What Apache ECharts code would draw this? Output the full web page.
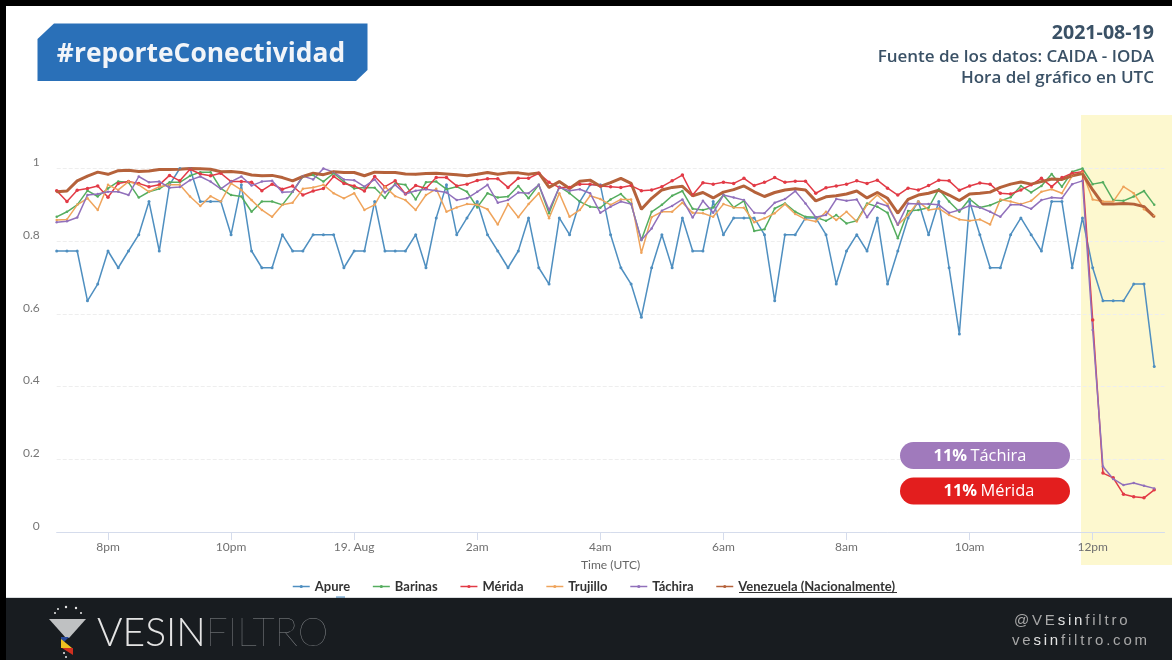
<!DOCTYPE html>
<html>
<head>
<meta charset="utf-8">
<title>reporteConectividad</title>
<script src="https://cdn.jsdelivr.net/npm/echarts@6/dist/echarts.min.js"></script>
<style>
html, body { margin: 0; padding: 0; background: #fff; }
#main { width: 1172px; height: 660px; }
</style>
</head>
<body>
<div id="main"></div>
<script>
// horas del eje, cada 10 min (la ultima queda vacia, el eje sigue un poco mas)
var times = [
    '19:10','19:20','19:30','19:40','19:50','20:00','20:10','20:20','20:30','20:40','20:50','21:00','21:10','21:20','21:30','21:40','21:50','22:00','22:10','22:20','22:30','22:40','22:50','23:00','23:10','23:20','23:30','23:40','23:50',
    '00:00','00:10','00:20','00:30','00:40','00:50','01:00','01:10','01:20','01:30','01:40','01:50','02:00','02:10','02:20','02:30','02:40','02:50','03:00','03:10','03:20','03:30','03:40','03:50','04:00','04:10','04:20','04:30','04:40','04:50',
    '05:00','05:10','05:20','05:30','05:40','05:50','06:00','06:10','06:20','06:30','06:40','06:50','07:00','07:10','07:20','07:30','07:40','07:50','08:00','08:10','08:20','08:30','08:40','08:50','09:00','09:10','09:20','09:30','09:40','09:50',
    '10:00','10:10','10:20','10:30','10:40','10:50','11:00','11:10','11:20','11:30','11:40','11:50','12:00','12:10','12:20','12:30','12:40','12:50','13:00','13:10'
];
var tickLabels = {'20:00': '8pm', '22:00': '10pm', '00:00': '19. Aug', '02:00': '2am', '04:00': '4am', '06:00': '6am', '08:00': '8am', '10:00': '10am', '12:00': '12pm'};

var apure = [
    .773,.773,.773,.636,.682,.773,.727,.773,.818,.909,
    .773,.955,1,1,.909,.909,.909,.818,.955,.773,
    .727,.727,.818,.773,.773,.818,.818,.818,.727,.773,
    .773,.909,.773,.773,.773,.818,.727,.864,.955,.818,
    .864,.909,.818,.773,.727,.773,.864,.727,.682,.864,
    .818,.909,.955,.955,.818,.727,.682,.591,.727,.818,
    .727,.864,.773,.773,.909,.818,.864,.864,.864,.818,
    .636,.818,.818,.864,.864,.818,.682,.773,.818,.773,
    .864,.682,.773,.864,.909,.818,.909,.727,.545,.909,
    .818,.727,.727,.818,.864,.818,.773,.909,.909,.727,
    .864,.727,.636,.636,.636,.682,.682,.455
];
var barinas = [
    .867,.881,.900,.939,.923,.945,.964,.962,.920,.936,
    .944,.962,.962,.980,.990,.990,.945,.927,.923,.881,
    .909,.909,.900,.936,.978,.982,.964,.987,.964,.945,
    .948,.947,.919,.959,.955,.915,.962,.964,.943,.950,
    .936,.893,.932,.920,.923,.952,.918,.955,.877,.950,
    .932,.909,.895,.892,.915,.930,.902,.803,.881,.900,
    .925,.938,.889,.886,.893,.927,.893,.911,.828,.833,
    .890,.904,.881,.867,.866,.856,.872,.849,.856,.904,
    .895,.878,.808,.883,.886,.892,.943,.909,.881,.916,
    .893,.899,.911,.921,.952,.934,.952,.985,.950,.991,
    1,.957,.962,.913,.911,.923,.938,.900
];
var merida = [
    .939,.909,.940,.945,.952,.921,.959,.964,.959,.950,
    .955,.981,.966,.998,.985,.980,.987,.964,.964,.962,
    .939,.957,.943,.952,.927,.938,.945,.978,.959,.952,
    .938,.978,.950,.966,.930,.953,.945,.975,.975,.952,
    .957,.967,.972,.972,.948,.973,.973,.987,.962,.948,
    .948,.957,.957,.952,.950,.948,.953,.939,.941,.950,
    .966,.982,.927,.961,.957,.962,.959,.973,.953,.962,
    .975,.962,.965,.965,.932,.947,.952,.957,.966,.959,
    .968,.946,.927,.946,.941,.953,.968,.966,.940,.952,
    .960,.957,.932,.930,.941,.955,.973,.950,.975,.987,
    .991,.583,.162,.149,.104,.097,.094,.116
];
var trujillo = [
    .858,.860,.900,.918,.886,.955,.941,.964,.955,.936,
    .950,.955,.955,.923,.897,.924,.909,.959,.941,.913,
    .886,.867,.900,.906,.944,.948,.955,.932,.918,.932,
    .886,.900,.950,.924,.913,.886,.927,.944,.881,.893,
    .902,.900,.888,.846,.902,.866,.902,.932,.863,.932,
    .867,.886,.925,.916,.900,.915,.915,.768,.866,.881,
    .881,.906,.878,.877,.867,.902,.893,.892,.852,.863,
    .877,.902,.875,.860,.854,.881,.858,.881,.854,.900,
    .927,.902,.845,.872,.909,.886,.890,.872,.860,.856,
    .860,.846,.915,.909,.902,.911,.936,.943,.932,.980,
    .989,.915,.909,.909,.950,.932,.888,.869
];
var tachira = [
    .852,.855,.865,.927,.930,.936,.936,.927,.978,.962,
    .964,.947,.949,.968,.978,.964,.944,.964,.978,.953,
    .964,.966,.935,.936,.979,.970,1,.990,.970,.968,
    .950,.970,.934,.955,.930,.939,.943,.939,.934,.913,
    .918,.936,.955,.906,.913,.934,.932,.955,.886,.948,
    .939,.943,.932,.878,.895,.909,.902,.803,.835,.884,
    .897,.915,.865,.911,.878,.927,.920,.913,.878,.877,
    .906,.916,.938,.904,.866,.872,.916,.911,.915,.866,
    .906,.897,.845,.904,.902,.902,.900,.878,.886,.898,
    .893,.881,.867,.900,.900,.889,.913,.920,.918,.957,
    .966,.556,.180,.146,.129,.135,.127,.120
];
var venezuela = [
    .936,.938,.966,.979,.990,.984,.994,.995,.992,.993,
    .997,.997,.998,1,.999,.998,.991,.992,.989,.982,
    .980,.981,.975,.966,.978,.987,.983,.991,.989,.989,
    .980,.990,.989,.989,.985,.984,.986,.987,.985,.983,
    .980,.984,.989,.984,.988,.988,.984,.988,.948,.964,
    .945,.965,.968,.951,.961,.973,.959,.888,.918,.941,
    .948,.951,.925,.934,.919,.935,.942,.952,.936,.923,
    .934,.941,.944,.941,.911,.922,.925,.930,.938,.919,
    .934,.918,.877,.915,.927,.932,.940,.927,.912,.930,
    .932,.935,.948,.957,.963,.957,.964,.971,.970,.980,
    .986,.941,.902,.902,.904,.902,.895,.867
];

function lineSerie(name, data, color, width, size) {
    return {
        name: name,
        type: 'line',
        data: data,
        clip: false,
        symbol: 'circle',
        symbolSize: size,
        showSymbol: true,
        animation: false,
        lineStyle: {color: color, width: width},
        itemStyle: {color: color}
    };
}

function poly(points, fill) {
    return {type: 'polygon', silent: true, z: 4, shape: {points: points}, style: {fill: fill}};
}
function box(x, y, w, h, fill, z, r) {
    return {type: 'rect', silent: true, z: z, shape: {x: x, y: y, width: w, height: h, r: r || 0}, style: {fill: fill}};
}
function txt(x, y, text, font, fill, align) {
    return {type: 'text', silent: true, z: 5, x: x, y: y, style: {
        text: text, font: font, fill: fill, textAlign: align, textVerticalAlign: 'middle'
    }};
}
function dot(x, y, r) {
    return {type: 'circle', silent: true, z: 4, shape: {cx: x, cy: y, r: r}, style: {fill: '#e8e8e8'}};
}
// letras separadas: cada letra es un token rich con algo de padding
function spaced(parts) {
    var out = '';
    parts.forEach(function (p) {
        p[1].split('').forEach(function (c) {
            out += '{' + p[0] + '|' + c + '}';
        });
    });
    return out;
}
var footerRich = {
    a: {font: '15px "Liberation Sans"', fill: '#a8a8a8', padding: [0, 2.8, 0, 0]},
    b: {font: '15px "Liberation Sans"', fill: '#e4e4e4', padding: [0, 2.8, 0, 0]}
};

var myChart = echarts.init(document.getElementById('main'));
var option = {
    backgroundColor: '#fff',
    animation: false,
    grid: {left: 56.7, right: 7.5, top: 168.5, bottom: 128},
    legend: {
        left: 292,
        top: 580,
        padding: 0,
        itemGap: 22,
        itemWidth: 17,
        itemHeight: 4,
        selectedMode: false,
        lineStyle: {width: 1.5},
        textStyle: {fontFamily: 'Lato', fontWeight: 'bold', fontSize: 13, color: '#333'},
        data: ['Apure', 'Barinas', 'Mérida', 'Trujillo', 'Táchira', 'Venezuela (Nacionalmente)']
    },
    xAxis: {
        type: 'category',
        data: times,
        boundaryGap: false,
        name: 'Time (UTC)',
        nameLocation: 'middle',
        nameGap: 27,
        nameTextStyle: {fontFamily: 'Lato', fontSize: 12, color: '#666'},
        axisLine: {lineStyle: {color: '#d5dcec', width: 1}},
        axisTick: {
            length: 8,
            lineStyle: {color: '#d5dcec'},
            interval: function (i, v) { return tickLabels[v] !== undefined; }
        },
        axisLabel: {
            fontFamily: 'Lato',
            fontSize: 12,
            color: '#707070',
            margin: 9,
            interval: function (i, v) { return tickLabels[v] !== undefined; },
            formatter: function (v) { return tickLabels[v]; }
        }
    },
    yAxis: {
        type: 'value',
        min: 0,
        max: 1,
        interval: 0.2,
        axisLine: {show: false},
        axisTick: {show: false},
        axisLabel: {
            fontFamily: 'Lato',
            fontSize: 12,
            color: '#777',
            margin: 17,
            verticalAlign: 'bottom'
        },
        splitLine: {lineStyle: {color: '#eeeeee', type: 'dashed', width: 1}}
    },
    series: [
        lineSerie('Apure', apure, '#4f8fc0', 1.5, 3),
        lineSerie('Barinas', barinas, '#55ad5f', 1.5, 2.5),
        lineSerie('Mérida', merida, '#e23a46', 1.5, 3.5),
        lineSerie('Trujillo', trujillo, '#efa45c', 1.5, 2.5),
        lineSerie('Táchira', tachira, '#9170bb', 1.5, 2.5),
        lineSerie('Venezuela (Nacionalmente)', venezuela, '#b5623b', 3, 2)
    ],
    graphic: {elements: [
        // banda amarilla de las 12pm
        box(1081, 115, 91, 450, '#fdf8cf', -1),
        // marco negro
        box(0, 0, 1172, 6, '#000', 5),
        box(0, 0, 6, 660, '#000', 5),
        // encabezado
        poly([[54, 23.5], [367.5, 23.5], [367.5, 70], [356, 81], [37.5, 81], [37.5, 39]], '#2a70b8'),
        txt(201, 54, '#reporteConectividad', 'bold 26.4px "Open Sans"', '#f2f5f9', 'center'),
        txt(1154, 33, '2021-08-19', 'bold 19.6px "Open Sans"', '#3a5166', 'right'),
        txt(1154, 57, 'Fuente de los datos: CAIDA - IODA', '600 17px "Open Sans"', '#3a5166', 'right'),
        txt(1154, 78, 'Hora del gráfico en UTC', '600 17px "Open Sans"', '#3a5166', 'right'),
        // etiquetas
        box(900, 442, 170, 27, '#a07abc', 6, 13.5),
        box(900, 477.5, 170, 27, '#e31e1e', 6, 13.5),
        {type: 'text', silent: true, z: 7, x: 980, y: 456, style: {
            text: '{b|11%} {n|Táchira}', fill: '#fff', textAlign: 'center', textVerticalAlign: 'middle',
            rich: {b: {font: 'bold 16.4px "Open Sans"', fill: '#fff'}, n: {font: '16.4px "Open Sans"', fill: '#fff'}}
        }},
        {type: 'text', silent: true, z: 7, x: 989, y: 491.5, style: {
            text: '{b|11%} {n|Mérida}', fill: '#fff', textAlign: 'center', textVerticalAlign: 'middle',
            rich: {b: {font: 'bold 16.4px "Open Sans"', fill: '#fff'}, n: {font: '16.4px "Open Sans"', fill: '#fff'}}
        }},
        // subrayado de la leyenda
        {type: 'line', silent: true, shape: {x1: 739, y1: 592.5, x2: 897, y2: 592.5}, style: {stroke: '#333', lineWidth: 1}},
        // pie de pagina
        box(336, 596.5, 9, 1.5, '#4f8fc0', 1),
        box(0, 597.5, 1172, 1, '#b4b9bd', 3),
        box(0, 598, 1172, 62, '#181c20', 3),
        poly([[49, 619], [86, 619], [69, 638], [66, 638]], '#bfc1c2'),
        poly([[61, 637], [69, 637], [61, 645]], '#2a4a9a'),
        poly([[61, 639], [72, 648], [61, 648]], '#f0c020'),
        poly([[62, 648], [73, 648], [73, 655]], '#d03020'),
        dot(58, 609, 1), dot(66, 607, 1.2), dot(76, 608, 1.2), dot(81, 613, 1), dot(55, 613, 1), dot(64, 653, 1), dot(66, 657, 1),
        {type: 'text', z: 4, silent: true, x: 97, y: 633, style: {
            text: '{a|VESIN}{b|FILTRO}', textAlign: 'left', textVerticalAlign: 'middle',
            rich: {a: {font: '300 39px "Lato"', fill: '#e4e4e4'}, b: {font: '100 39px "Lato"', fill: '#8a8d90'}}
        }},
        {type: 'text', z: 4, silent: true, x: 1014, y: 621, style: {
            text: spaced([['a', '@VE'], ['b', 'sin'], ['a', 'filtro']]), textAlign: 'left', textVerticalAlign: 'middle',
            rich: footerRich
        }},
        {type: 'text', z: 4, silent: true, x: 1012, y: 641, style: {
            text: spaced([['a', 've'], ['b', 'sin'], ['a', 'filtro.com']]), textAlign: 'left', textVerticalAlign: 'middle',
            rich: footerRich
        }}
    ]}
};
myChart.setOption(option);
</script>
</body>
</html>
